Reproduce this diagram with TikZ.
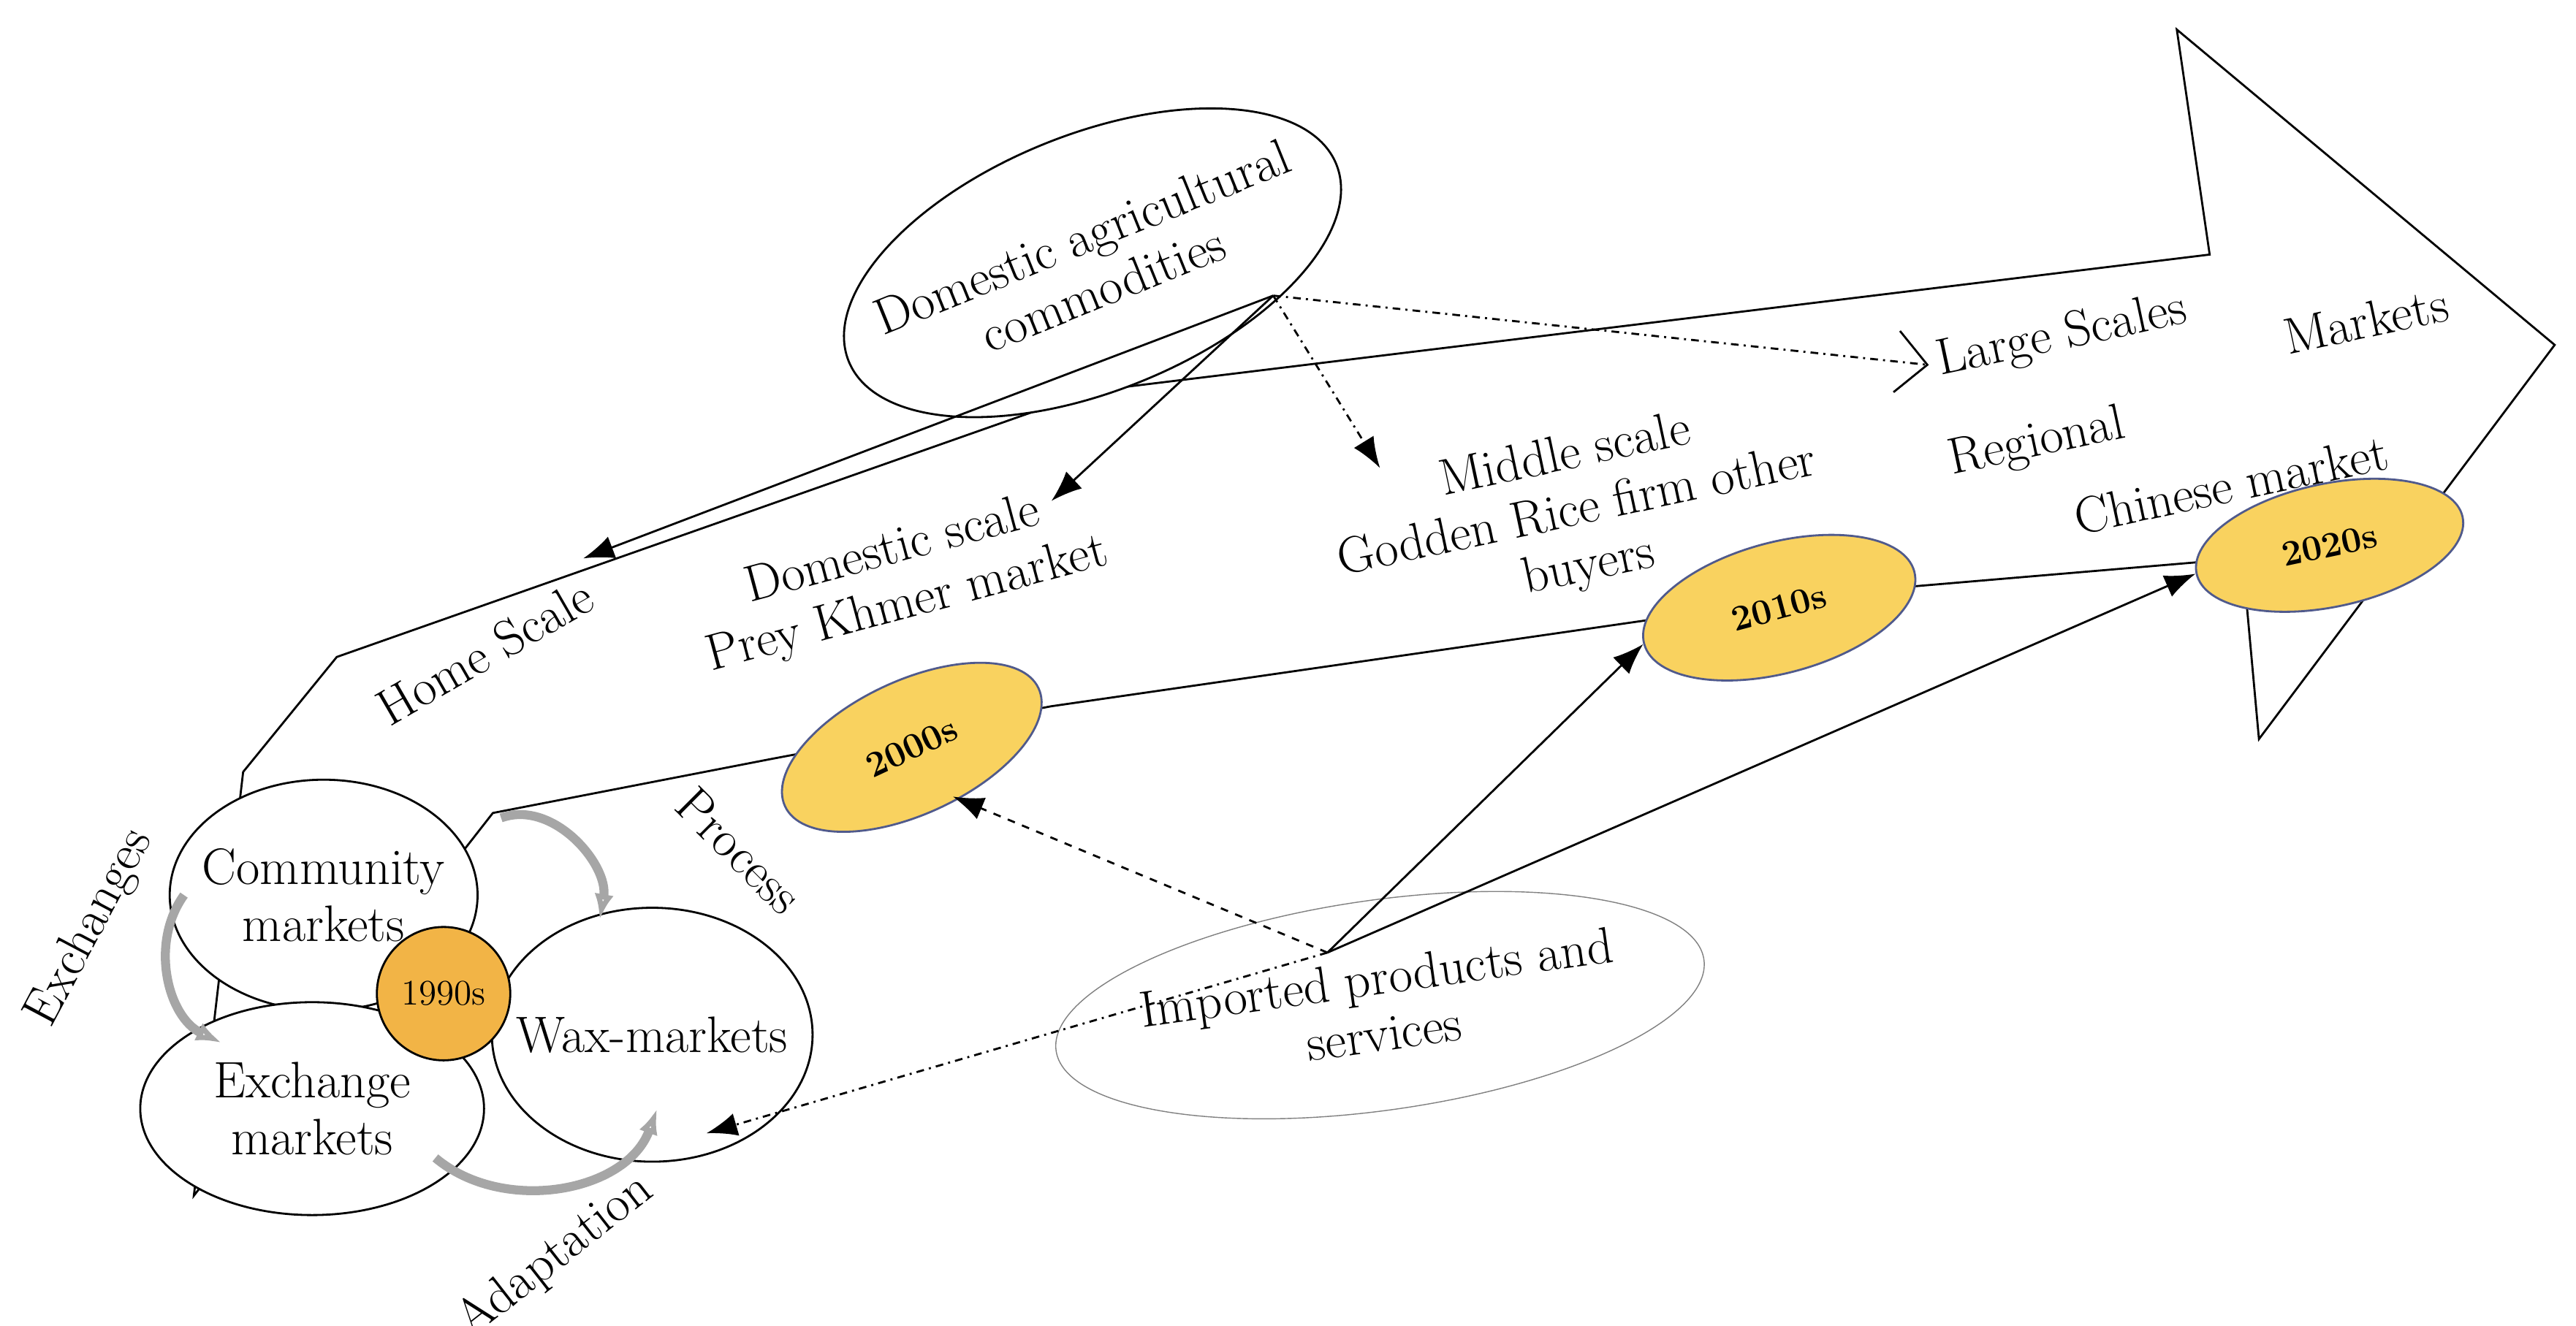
\documentclass[tikz,border=0pt]{standalone}
\usetikzlibrary{shapes.geometric,arrows.meta}
\definecolor{yearfill}{RGB}{249,210,95}
\definecolor{oldyear}{RGB}{242,180,70}
\definecolor{yearline}{RGB}{80,90,140}
\tikzset{
  market/.style={ellipse, draw, fill=white, thick, inner sep=0pt},
  year/.style={ellipse, draw=yearline, thick, fill=yearfill, font=\fontsize{14}{16}\selectfont\bfseries, inner sep=0pt},
  lbl/.style={align=center, font=\fontsize{20}{22}\selectfont},
  cycle/.style={draw=gray!70, line width=3.5pt, -{Latex[length=10pt,open,fill=white]}},
  tip/.style={-{Latex[length=12pt]}, thick}
}
\begin{document}
\begin{tikzpicture}[x=0.0225cm,y=-0.0225cm]
\useasboundingbox (0,0) rectangle (1568,807);
% big arrow
\draw[thick] (118,728) -- (148,470) -- (205,400) -- (665,238) -- (1345,155) -- (1325,18)
  -- (1555,210) -- (1375,450) -- (1365,340) -- (1165,357) -- (1000,378) -- (640,430)
  -- (470,462) -- (300,495) -- cycle;

% years
\node[year, minimum width=109pt, minimum height=52pt, rotate=25] (y00) at (555,455) {2000s};
\node[year, minimum width=109pt, minimum height=51pt, rotate=15] (y10) at (1083,370) {2010s};
\node[year, minimum width=106pt, minimum height=48pt, rotate=12] (y20) at (1418,332) {2020s};

% sources
\node[market, minimum width=205pt, minimum height=100pt, rotate=22] (dom) at (665,160) {};
\node[lbl, rotate=22] (domt) at (dom) {Domestic agricultural\\commodities};
\node[market, draw=gray, thin, minimum width=255pt, minimum height=82pt, rotate=8] (imp) at (840,612) {};
\node[lbl, rotate=8] (impt) at (imp) {Imported products and\\services};

% scales
\node[lbl, rotate=30] (home) at (295,397) {Home Scale};
\node[lbl, rotate=15] (domsc) at (548,352) {Domestic scale\\Prey Khmer market};
\node[lbl, rotate=12] (mid) at (960,312) {Middle scale\\Godden Rice firm other\\buyers};
\node[lbl, rotate=12] (large) at (1255,205) {Large Scales};
\node[lbl, rotate=12] (mkts) at (1440,195) {Markets};
\node[lbl, rotate=12] (reg) at (1240,270) {Regional};
\node[lbl, rotate=12] (chin) at (1358,295) {Chinese market};

% 1990s markets
\node[market, minimum width=120pt, minimum height=90pt] (comm) at (197,545) {};
\node[lbl] (commt) at (comm) {Community\\markets};
\node[market, minimum width=134pt, minimum height=83pt] (exch) at (190,675) {};
\node[lbl] (excht) at (exch) {Exchange\\markets};
\node[market, minimum width=125pt, minimum height=99pt] (wax) at (397,630) {};
\node[lbl] (waxt) at (wax) {Wax-markets};
\node[circle, draw, thick, fill=oldyear, minimum size=52pt, inner sep=0pt, font=\fontsize{14}{16}\selectfont] (y90) at (270,605) {1990s};

\draw[cycle] (112,545) to[bend right=50] (135,635);
\draw[cycle] (305,498) to[out=20, in=80] (365,560);
\draw[cycle] (265,705) to[out=-40, in=-110] (400,675);
\node[lbl, rotate=62] (exlbl) at (55,565) {Exchanges};
\node[lbl, rotate=-45] (proc) at (450,518) {Process};
\node[lbl, rotate=38] (adap) at (338,765) {Adaptation};

% links
\coordinate (dsrc) at (775,180);
\coordinate (isrc) at (808,580);
\draw[tip] (dsrc) -- (355,340);
\draw[tip] (dsrc) -- (640,305);
\draw[tip, dash dot] (dsrc) -- (840,285);
\draw[-{Straight Barb[length=12pt]}, thick, dash dot] (dsrc) -- (large.west);
\draw[tip, dashed] (isrc) -- (580,485);
\draw[tip, dash dot] (isrc) -- (430,690);
\draw[tip] (isrc) -- (y10.west);
\draw[tip] (isrc) -- (y20.west);
\end{tikzpicture}
\end{document}
